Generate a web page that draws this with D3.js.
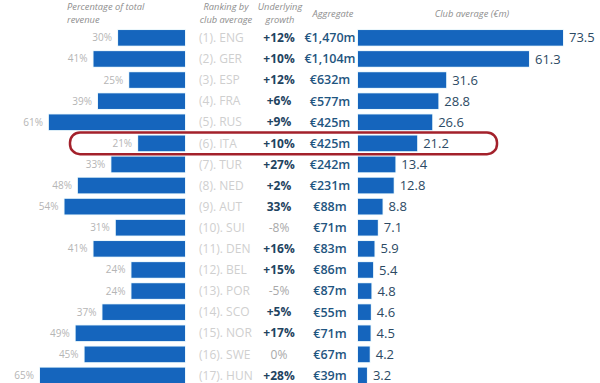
<!DOCTYPE html>
<html>
<head>
<meta charset="utf-8">
<script src="https://cdn.jsdelivr.net/npm/d3@7"></script>
<style>
  body { margin: 0; background: #fff; }
  svg { display: block; font-family: "Open Sans", "Liberation Sans", sans-serif; }
</style>
</head>
<body>
<svg id="svg"></svg>
<script>

const width = 600;
const height = 383;

// data
const countries = ["ENG","GER","ESP","FRA","RUS","ITA","TUR","NED","AUT","SUI","DEN","BEL","POR","SCO","NOR","SWE","HUN"];
const revenueShare = [30,41,25,39,61,21,33,48,54,31,41,24,24,37,49,45,65];
const growth = ["+12%","+10%","+12%","+6%","+9%","+10%","+27%","+2%","33%","-8%","+16%","+15%","-5%","+5%","+17%","0%","+28%"];
const aggregate = ["€1,470m","€1,104m","€632m","€577m","€425m","€425m","€242m","€231m","€88m","€71m","€83m","€86m","€87m","€55m","€71m","€67m","€39m"];
const clubAverage = [73.5,61.3,31.6,28.8,26.6,21.2,13.4,12.8,8.8,7.1,5.9,5.4,4.8,4.6,4.5,4.2,3.2];
const highlight = "ITA";

const blue = "#1565bd";

const rows = countries.map((c, i) => ({
  country: c,
  rank: i + 1,
  share: revenueShare[i],
  growth: growth[i],
  aggregate: aggregate[i],
  avg: clubAverage[i]
}));

const svg = d3.select("#svg")
  .attr("width", width)
  .attr("height", height)
  .attr("viewBox", `0 0 ${width} ${height}`);

const y = d3.scaleBand()
  .domain(countries)
  .range([27.3, 386])
  .paddingInner(0.26)
  .paddingOuter(0.13);

const xLeft = d3.scaleLinear().domain([0, 65]).range([185, 40]);
const xRight = d3.scaleLinear().domain([0, 73.5]).range([358, 563]);

// headers
const headers = [
  {lines: ["Percentage of total", "revenue"], x: 67, anchor: "start"},
  {lines: ["Ranking by", "club average"], x: 226, anchor: "middle"},
  {lines: ["Underlying", "growth"], x: 280, anchor: "middle"},
  {lines: ["Aggregate"], x: 333, anchor: "middle", y0: 17},
  {lines: ["Club average (€m)"], x: 472, anchor: "middle", y0: 17}
];
const head = svg.append("g")
  .attr("font-size", 9.3)
  .attr("font-style", "italic")
  .attr("fill", "#8e8e8e");
headers.forEach(h => {
  h.lines.forEach((l, j) => {
    head.append("text")
      .attr("x", h.x)
      .attr("y", (h.y0 || 10) + j * 12.8)
      .attr("text-anchor", h.anchor)
      .text(l);
  });
});

// left bars
const left = svg.append("g");
left.selectAll("rect")
  .data(rows)
  .enter().append("rect")
  .attr("x", d => xLeft(d.share))
  .attr("y", d => y(d.country))
  .attr("width", d => xLeft(0) - xLeft(d.share))
  .attr("height", y.bandwidth())
  .attr("fill", blue)
  .attr("stroke", "#e3f4fb")
  .attr("stroke-width", 1.5)
  .attr("paint-order", "stroke");

left.selectAll("text")
  .data(rows)
  .enter().append("text")
  .attr("x", d => xLeft(d.share) - 6)
  .attr("y", d => y(d.country) + y.bandwidth() / 2)
  .attr("dy", "0.35em")
  .attr("text-anchor", "end")
  .attr("font-size", 10)
  .attr("fill", "#b5b5b5")
  .text(d => d.share + "%");

// ranking labels
svg.append("g").selectAll("text")
  .data(rows)
  .enter().append("text")
  .attr("x", 199)
  .attr("y", d => y(d.country) + y.bandwidth() / 2)
  .attr("dy", "0.35em")
  .attr("font-size", 12)
  .attr("fill", "#cfcfcf")
  .text(d => `(${d.rank}). ${d.country}`);

// underlying growth
svg.append("g").selectAll("text")
  .data(rows)
  .enter().append("text")
  .attr("x", 279)
  .attr("y", d => y(d.country) + y.bandwidth() / 2)
  .attr("dy", "0.35em")
  .attr("text-anchor", "middle")
  .attr("font-size", 12)
  .attr("font-weight", d => (d.growth.startsWith("-") || d.growth === "0%") ? "normal" : "bold")
  .attr("fill", d => (d.growth.startsWith("-") || d.growth === "0%") ? "#a9a9a9" : "#1e4360")
  .text(d => d.growth);

// aggregate
svg.append("g").selectAll("text")
  .data(rows)
  .enter().append("text")
  .attr("x", 330)
  .attr("y", d => y(d.country) + y.bandwidth() / 2)
  .attr("dy", "0.35em")
  .attr("text-anchor", "middle")
  .attr("font-size", 12.5)
  .attr("font-weight", 600)
  .attr("fill", "#1f5580")
  .text(d => d.aggregate);

// right bars
const right = svg.append("g");
right.selectAll("rect")
  .data(rows)
  .enter().append("rect")
  .attr("x", xRight(0))
  .attr("y", d => y(d.country))
  .attr("width", d => xRight(d.avg) - xRight(0))
  .attr("height", y.bandwidth())
  .attr("fill", blue)
  .attr("stroke", "#e3f4fb")
  .attr("stroke-width", 1.5)
  .attr("paint-order", "stroke");

right.selectAll("text")
  .data(rows)
  .enter().append("text")
  .attr("x", d => xRight(d.avg) + 6)
  .attr("y", d => y(d.country) + y.bandwidth() / 2)
  .attr("dy", "0.35em")
  .attr("font-size", 13)
  .attr("fill", "#2c4a64")
  .text(d => d.avg.toFixed(1));

// highlight box around Italy
svg.append("rect")
  .attr("x", 70)
  .attr("y", y(highlight) - 3)
  .attr("width", 427)
  .attr("height", y.bandwidth() + 6)
  .attr("rx", 10)
  .attr("fill", "none")
  .attr("stroke", "#a3212b")
  .attr("stroke-width", 2.5);

</script>
</body>
</html>
